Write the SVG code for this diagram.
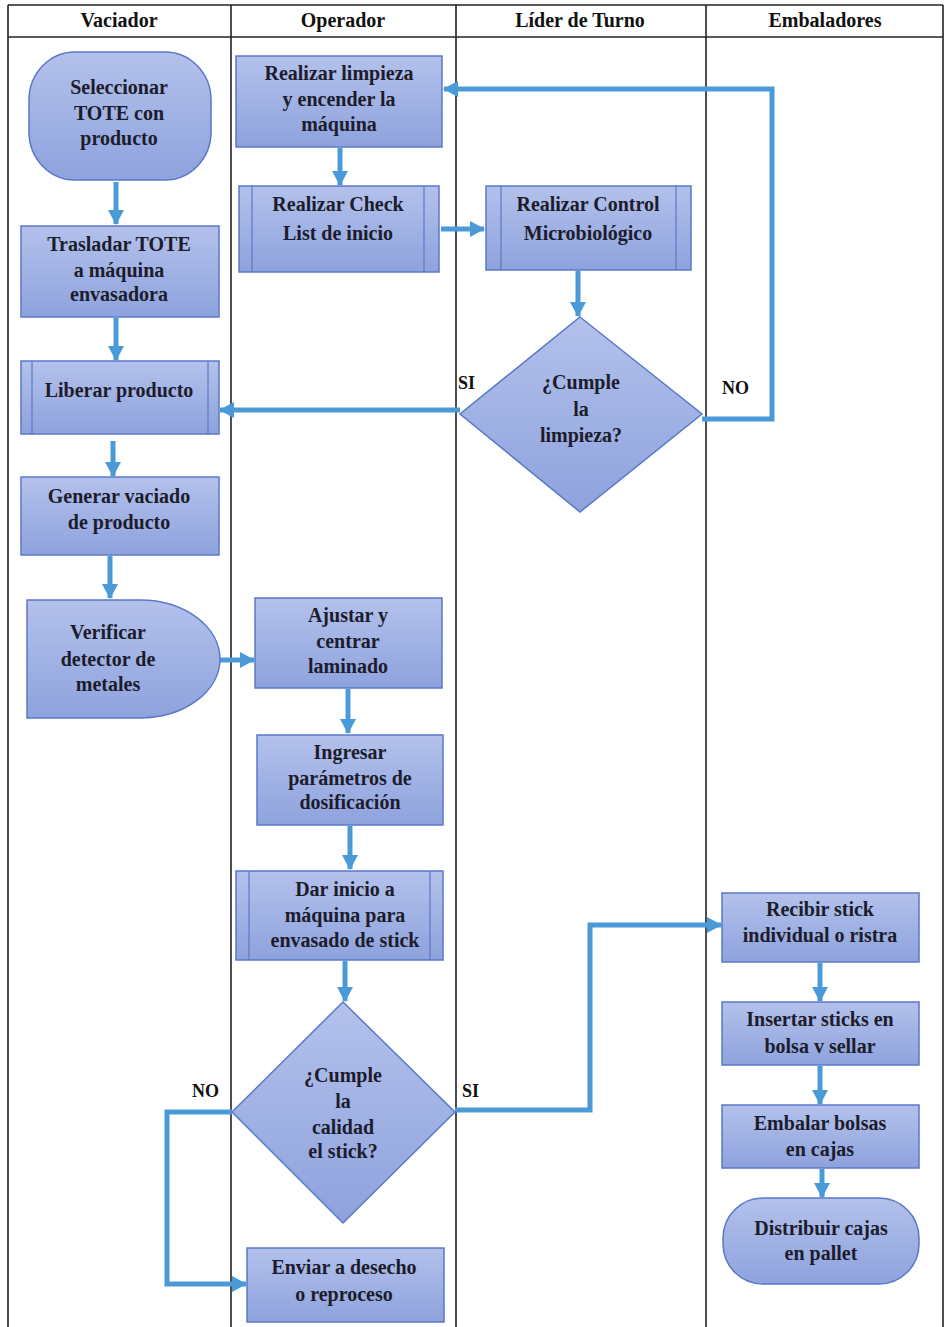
<svg xmlns="http://www.w3.org/2000/svg" width="945" height="1327" viewBox="0 0 945 1327">
<defs>
<linearGradient id="g" x1="0" y1="0" x2="0" y2="1">
<stop offset="0" stop-color="#b3c1eb"/>
<stop offset="1" stop-color="#8ea2dd"/>
</linearGradient>
<marker id="ah" markerUnits="userSpaceOnUse" markerWidth="16" markerHeight="16" refX="14" refY="8" orient="auto">
<path d="M0,0 L15,8 L0,16 Z" fill="#4a9ad8"/>
</marker>
<style>
.n{fill:url(#g);stroke:#5a78c8;stroke-width:1.5}
.in{stroke:#5a78c8;stroke-width:1.2;fill:none}
.t{font-family:"Liberation Serif","Times New Roman",serif;font-weight:bold;font-size:20px;fill:#1c1c2c;text-anchor:middle}
.h{font-family:"Liberation Serif","Times New Roman",serif;font-weight:bold;font-size:20px;fill:#111;text-anchor:middle}
.lb{font-family:"Liberation Serif","Times New Roman",serif;font-weight:bold;font-size:18px;fill:#111}
.c{fill:none;stroke:#4a9ad8;stroke-width:5;marker-end:url(#ah)}
.ln{stroke:#222;stroke-width:1.6}
</style>
</defs>
<rect width="945" height="1327" fill="#fff"/>
<g id="lanes">
<line class="ln" x1="8" y1="5" x2="943" y2="5"/>
<line class="ln" x1="8" y1="37" x2="943" y2="37"/>
<line class="ln" x1="8" y1="5" x2="8" y2="1327"/>
<line class="ln" x1="231" y1="5" x2="231" y2="1327"/>
<line class="ln" x1="456" y1="5" x2="456" y2="1327"/>
<line class="ln" x1="706" y1="5" x2="706" y2="1327"/>
<line class="ln" x1="943" y1="5" x2="943" y2="1327"/>
<text class="h" x="119" y="27">Vaciador</text>
<text class="h" x="343" y="27">Operador</text>
<text class="h" x="580" y="27">Líder de Turno</text>
<text class="h" x="825" y="27">Embaladores</text>
</g>
<g id="connectors">
<path class="c" d="M116,182 V224"/>
<path class="c" d="M116,318 V360"/>
<path class="c" d="M113,441 V476"/>
<path class="c" d="M110,556 V598"/>
<path class="c" d="M340,148 V185"/>
<path class="c" d="M441,229 H484"/>
<path class="c" d="M578,271 V316"/>
<path class="c" d="M460,410 H220"/>
<path class="c" d="M702,419 H772 V89 H444"/>
<path class="c" d="M220,660 H254"/>
<path class="c" d="M348,689 V733"/>
<path class="c" d="M350,826 V869"/>
<path class="c" d="M345,961 V1001"/>
<path class="c" d="M232,1112 H167 V1284 H246"/>
<path class="c" d="M455,1110 H590 V925 H721"/>
<path class="c" d="M820,963 V1001"/>
<path class="c" d="M820,1066 V1104"/>
<path class="c" d="M822,1169 V1197"/>
<text class="lb" x="458" y="389">SI</text>
<text class="lb" x="722" y="394">NO</text>
<text class="lb" x="192" y="1097">NO</text>
<text class="lb" x="462" y="1097">SI</text>
</g>
<g id="n1">
<rect class="n" x="29" y="52" width="182" height="128" rx="46" ry="48"/>
<text class="t" x="119" y="94">Seleccionar</text>
<text class="t" x="119" y="120">TOTE con</text>
<text class="t" x="119" y="145">producto</text>
</g>
<g id="n2">
<rect class="n" x="21" y="226" width="198" height="91"/>
<text class="t" x="119" y="251">Trasladar TOTE</text>
<text class="t" x="119" y="277">a máquina</text>
<text class="t" x="119" y="301">envasadora</text>
</g>
<g id="n3">
<rect class="n" x="21" y="361" width="198" height="73"/>
<line class="in" x1="32" y1="361" x2="32" y2="434"/>
<line class="in" x1="208" y1="361" x2="208" y2="434"/>
<text class="t" x="119" y="397">Liberar producto</text>
</g>
<g id="n4">
<rect class="n" x="21" y="477" width="198" height="78"/>
<text class="t" x="119" y="503">Generar vaciado</text>
<text class="t" x="119" y="529">de producto</text>
</g>
<g id="n5">
<path class="n" d="M27,600 H140 A80,59 0 0 1 140,718 H27 Z"/>
<text class="t" x="108" y="639">Verificar</text>
<text class="t" x="108" y="666">detector de</text>
<text class="t" x="108" y="691">metales</text>
</g>
<g id="n6">
<rect class="n" x="236" y="56" width="206" height="91"/>
<text class="t" x="339" y="80">Realizar limpieza</text>
<text class="t" x="339" y="106">y encender la</text>
<text class="t" x="339" y="131">máquina</text>
</g>
<g id="n7">
<rect class="n" x="239" y="186" width="200" height="86"/>
<line class="in" x1="252" y1="186" x2="252" y2="272"/>
<line class="in" x1="424" y1="186" x2="424" y2="272"/>
<text class="t" x="338" y="211">Realizar Check</text>
<text class="t" x="338" y="240">List de inicio</text>
</g>
<g id="n8">
<rect class="n" x="486" y="186" width="205" height="84"/>
<line class="in" x1="501" y1="186" x2="501" y2="270"/>
<line class="in" x1="676" y1="186" x2="676" y2="270"/>
<text class="t" x="588" y="211">Realizar Control</text>
<text class="t" x="588" y="240">Microbiológico</text>
</g>
<g id="n9">
<polygon class="n" points="580,317 702,414 580,512 460,414"/>
<text class="t" x="581" y="389">¿Cumple</text>
<text class="t" x="581" y="416">la</text>
<text class="t" x="581" y="442">limpieza?</text>
</g>
<g id="n10">
<rect class="n" x="255" y="598" width="187" height="90"/>
<text class="t" x="348" y="622">Ajustar y</text>
<text class="t" x="348" y="648">centrar</text>
<text class="t" x="348" y="673">laminado</text>
</g>
<g id="n11">
<rect class="n" x="257" y="735" width="186" height="90"/>
<text class="t" x="350" y="759">Ingresar</text>
<text class="t" x="350" y="785">parámetros de</text>
<text class="t" x="350" y="809">dosificación</text>
</g>
<g id="n12">
<rect class="n" x="236" y="871" width="207" height="89"/>
<line class="in" x1="249" y1="871" x2="249" y2="960"/>
<line class="in" x1="430" y1="871" x2="430" y2="960"/>
<text class="t" x="345" y="896">Dar inicio a</text>
<text class="t" x="345" y="922">máquina para</text>
<text class="t" x="345" y="947">envasado de stick</text>
</g>
<g id="n13">
<polygon class="n" points="343,1002 455,1112 343,1223 232,1112"/>
<text class="t" x="343" y="1082">¿Cumple</text>
<text class="t" x="343" y="1108">la</text>
<text class="t" x="343" y="1134">calidad</text>
<text class="t" x="343" y="1158">el stick?</text>
</g>
<g id="n14">
<rect class="n" x="247" y="1248" width="197" height="74"/>
<text class="t" x="344" y="1274">Enviar a desecho</text>
<text class="t" x="344" y="1301">o reproceso</text>
</g>
<g id="n15">
<rect class="n" x="722" y="893" width="197" height="69"/>
<text class="t" x="820" y="916">Recibir stick</text>
<text class="t" x="820" y="942">individual o ristra</text>
</g>
<g id="n16">
<rect class="n" x="722" y="1002" width="197" height="63"/>
<text class="t" x="820" y="1026">Insertar sticks en</text>
<text class="t" x="820" y="1053">bolsa v sellar</text>
</g>
<g id="n17">
<rect class="n" x="722" y="1105" width="197" height="63"/>
<text class="t" x="820" y="1130">Embalar bolsas</text>
<text class="t" x="820" y="1156">en cajas</text>
</g>
<g id="n18">
<rect class="n" x="723" y="1198" width="196" height="86" rx="40" ry="40"/>
<text class="t" x="821" y="1235">Distribuir cajas</text>
<text class="t" x="821" y="1260">en pallet</text>
</g>
</svg>
